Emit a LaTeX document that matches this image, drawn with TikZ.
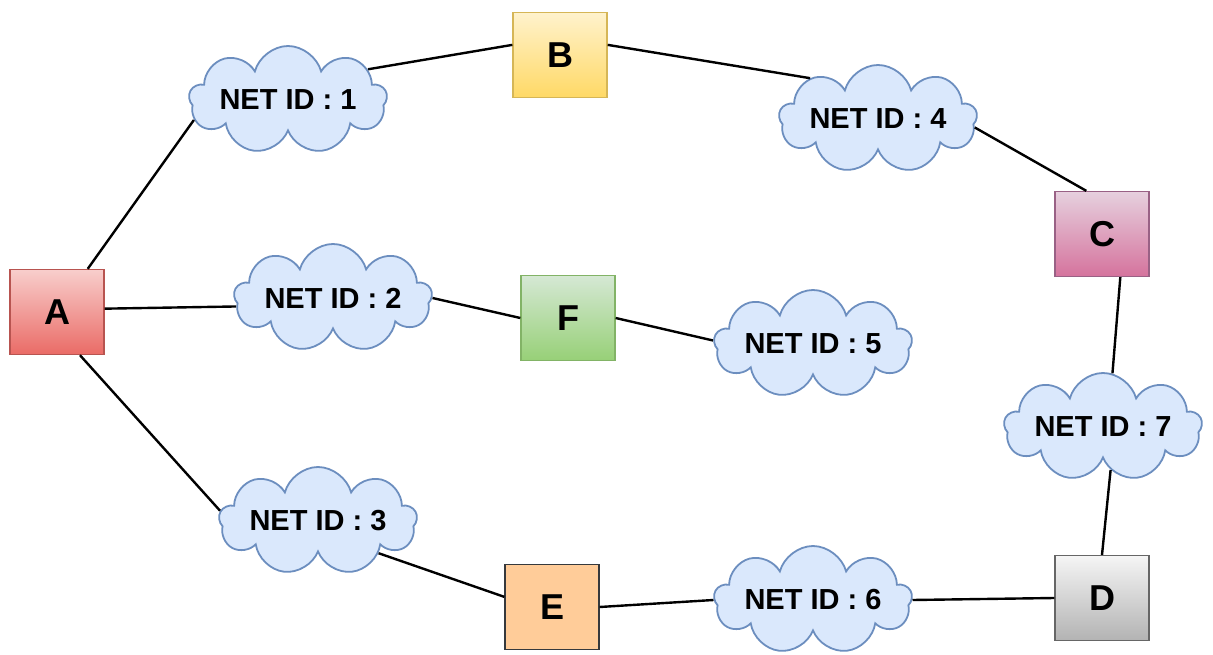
\documentclass[tikz,border=0pt]{standalone}
\usepackage{fontspec}
\setmainfont{Liberation Sans}
\usetikzlibrary{shapes.symbols}

\definecolor{netfill}{HTML}{DAE8FC}
\definecolor{netdraw}{HTML}{6C8EBF}

\begin{document}
\begin{tikzpicture}[x=1pt,y=-1pt]
   \tikzstyle{host}=[draw, rectangle, line width=1.3pt, minimum width=94pt, minimum height=85pt, font=\fontsize{36}{40}\selectfont\bfseries]
   \tikzstyle{net}=[draw=netdraw, fill=netfill, cloud, cloud puffs=9, cloud ignores aspect, line width=1.8pt, minimum width=198pt, minimum height=108pt, inner sep=0pt, font=\fontsize{29}{32}\selectfont\bfseries]
   \tikzstyle{link}=[draw, line width=2.4pt]
   \useasboundingbox (0,0) rectangle (1213,655);

\node[host, draw={rgb,255:red,184;green,84;blue,80}, top color={rgb,255:red,248;green,206;blue,204}, bottom color={rgb,255:red,234;green,107;blue,102}] (A) at (57,312) {A};
\node[host, draw={rgb,255:red,214;green,182;blue,86}, top color={rgb,255:red,255;green,242;blue,204}, bottom color={rgb,255:red,255;green,217;blue,102}] (B) at (560,55) {B};
\node[host, draw={rgb,255:red,153;green,97;blue,133}, top color={rgb,255:red,230;green,208;blue,222}, bottom color={rgb,255:red,213;green,115;blue,157}] (C) at (1102,234) {C};
\node[host, draw={rgb,255:red,102;green,102;blue,102}, top color={rgb,255:red,245;green,245;blue,245}, bottom color={rgb,255:red,179;green,179;blue,179}] (D) at (1102,598) {D};
\node[host, draw={rgb,255:red,54;green,57;blue,61}, fill={rgb,255:red,255;green,204;blue,153}] (E) at (552,607) {E};
\node[host, draw={rgb,255:red,130;green,179;blue,102}, top color={rgb,255:red,213;green,232;blue,212}, bottom color={rgb,255:red,151;green,208;blue,119}] (F) at (568,318) {F};

\node[net] (net1) at (288,100) {NET ID : 1};
\node[net] (net2) at (333,298) {NET ID : 2};
\node[net] (net3) at (318,521) {NET ID : 3};
\node[net] (net4) at (878,119) {NET ID : 4};
\node[net] (net5) at (813,344) {NET ID : 5};
\node[net] (net6) at (813,600) {NET ID : 6};
\node[net] (net7) at (1103,427) {NET ID : 7};

\path[link] (A) -- (net1.192);
\path[link] (net1.21) -- (B.168);
\path[link] (B.12) -- (net4.149);
\path[link] (net4.-5) -- (C.110);
\path[link] (C.-67) -- (net7.80);
\path[link] (net7.-80) -- (D.north);
\path[link] (D.west) -- (net6.east);
\path[link] (net6.west) -- (E.east);
\path[link] (E.168) -- (net3.-28);
\path[link] (net3.174) -- (A.-62);
\path[link] (A.4) -- (net2.185);
\path[link] (net2.east) -- (F.west);
\path[link] (F.east) -- (net5.178);

\end{tikzpicture}
\end{document}
